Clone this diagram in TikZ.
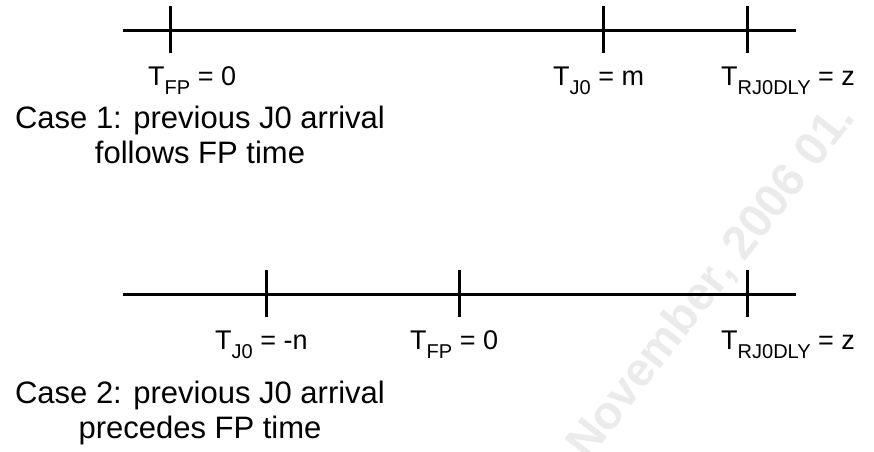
\documentclass[tikz,border=0pt]{standalone}
\usepackage{fontspec}
\setmainfont{Liberation Sans}
\newcommand\sbs[1]{\raisebox{-9pt}{\fontsize{20}{22}\selectfont #1}}
\tikzset{
  axis/.style={line width=3pt},
  tick/.style={line width=3pt},
  lbl/.style={anchor=base west, inner sep=0pt, font=\fontsize{27}{32}\selectfont},
  casetxt/.style={anchor=base, inner sep=0pt, align=center, font=\fontsize{31}{35}\selectfont},
  wmark/.style={anchor=base west, inner sep=0pt, text=black!8, rotate=52, font=\bfseries\fontsize{47}{50}\selectfont}
}
\begin{document}
\begin{tikzpicture}[x=1pt,y=-1pt]
\useasboundingbox (0,0) rectangle (874,451);
\begin{scope}
\clip (0,0) rectangle (874,451);
\node[wmark] (wm) at (588,462) {November, 2006 01.};
\end{scope}
% line 1
\coordinate (a1) at (123,30);
\coordinate (b1) at (796,30);
\draw[axis] (a1) -- (b1);
\coordinate (t1a) at (170,6);  \coordinate (t1b) at (170,53);
\coordinate (t2a) at (603,6);  \coordinate (t2b) at (603,53);
\coordinate (t3a) at (747,6);  \coordinate (t3b) at (747,53);
\draw[tick] (t1a) -- (t1b);
\draw[tick] (t2a) -- (t2b);
\draw[tick] (t3a) -- (t3b);
\node[lbl] (l11) at (148,85) {T\sbs{FP} = 0};
\node[lbl] (l12) at (553,85) {T\sbs{J0} = m};
\node[lbl] (l13) at (721,85) {T\sbs{RJ0DLY} = z};
\node[casetxt] (c1) at (200,163) {Case 1: previous J0 arrival\\follows FP time};
% line 2
\coordinate (a2) at (123,294);
\coordinate (b2) at (796,294);
\draw[axis] (a2) -- (b2);
\coordinate (s1a) at (266,270);  \coordinate (s1b) at (266,317);
\coordinate (s2a) at (459,270);  \coordinate (s2b) at (459,317);
\coordinate (s3a) at (747,270);  \coordinate (s3b) at (747,317);
\draw[tick] (s1a) -- (s1b);
\draw[tick] (s2a) -- (s2b);
\draw[tick] (s3a) -- (s3b);
\node[lbl] (l21) at (215,349) {T\sbs{J0} = -n};
\node[lbl] (l22) at (410,349) {T\sbs{FP} = 0};
\node[lbl] (l23) at (721,349) {T\sbs{RJ0DLY} = z};
\node[casetxt] (c2) at (200,438) {Case 2: previous J0 arrival\\precedes FP time};
\end{tikzpicture}
\end{document}
